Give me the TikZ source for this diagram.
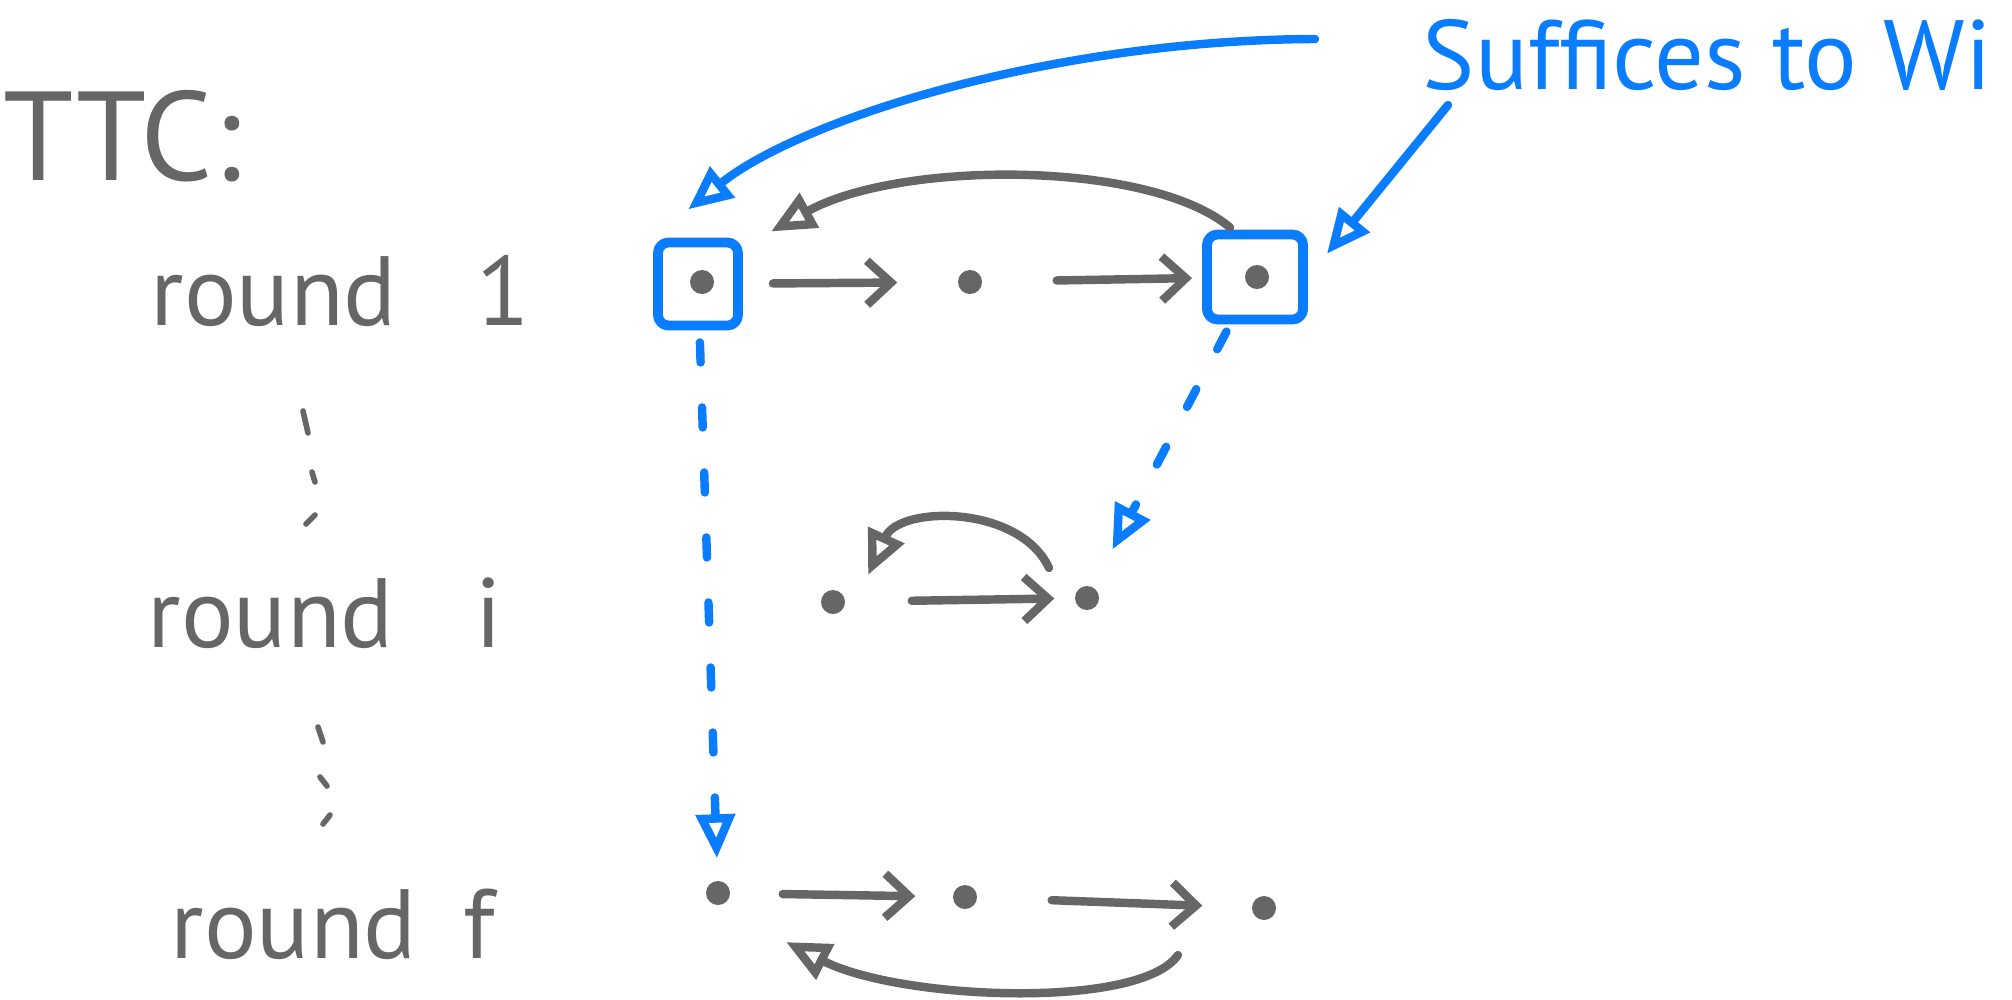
\documentclass[tikz,border=0pt]{standalone}
\usepackage{fontspec}
\setmainfont{PT Sans}
\usetikzlibrary{positioning, arrows.meta}
\definecolor{ink}{RGB}{102,102,102}
\definecolor{pen}{RGB}{10,125,255}

\begin{document}
\begin{tikzpicture}[
    x=0.01cm, y=-0.01cm,
    line cap=round, line join=round,
    dot/.style={circle, fill=ink, inner sep=0pt, minimum size=0.24cm},
    probe/.style={draw=pen, line width=2.8pt, rounded corners=3pt, inner sep=0pt, minimum width=0.8cm, minimum height=0.83cm},
    arr/.style={-{Straight Barb[length=0.24cm, width=0.44cm]}, ink, line width=2.4pt},
    back/.style={-{Triangle[open, length=0.44cm, width=0.38cm]}, ink, line width=2.4pt},
    barr/.style={-{Triangle[open, length=0.44cm, width=0.38cm]}, pen, line width=2.4pt},
    hint/.style={barr, dash pattern=on 0.2cm off 0.45cm},
    lbl/.style={ink, anchor=base west, inner sep=0pt, font=\fontsize{28}{30}\selectfont},
    note/.style={pen, anchor=base west, inner sep=0pt, font=\fontsize{28}{30}\selectfont}
]
    \path[use as bounding box, fill=white] (0,0) rectangle (2012,1000);

    \node[lbl, font=\fontsize{36}{40}\selectfont] (ttc) at (3,180) {TTC:};
    \node[lbl] (w1) at (150,325) {round};
    \node[lbl, right=0.78cm of w1.base east, anchor=base west] (n1) {1};
    \node[lbl] (w2) at (147,647) {round};
    \node[lbl, right=0.8cm of w2.base east, anchor=base west] (n2) {i};
    \node[lbl] (w3) at (170,958) {round};
    \node[lbl, right=0.45cm of w3.base east, anchor=base west] (n3) {f};

    \foreach \a/\b/\c/\d in {303/411/308/433, 312/472/315/482, 306/524/315/515,
                             318/727/323/742, 320/777/327/786, 323/824/330/815}
        \draw[ink, line width=1.6pt] (\a,\b) -- (\c,\d);

    \node[dot] (r1a) at (702,282) {};
    \node[probe] (box1) at (698,284) {};
    \node[dot] (r1b) at (970,282) {};
    \node[dot] (r1c) at (1257,277) {};
    \node[probe, minimum width=0.96cm, minimum height=0.85cm] (box2) at (1255,277) {};

    \node[dot] (r2a) at (833,602) {};
    \node[dot] (r2b) at (1087,598) {};

    \node[dot] (r3a) at (718,893) {};
    \node[dot] (r3b) at (965,897) {};
    \node[dot] (r3c) at (1264,908) {};

    \draw[arr, shorten <=0.3cm, shorten >=0.6cm] (box1) -- (r1b);
    \draw[arr, shorten <=0.74cm, shorten >=0.1cm] (r1b) -- (box2);
    \draw[arr, shorten <=0.66cm, shorten >=0.2cm] (r2a) -- (r2b);
    \draw[arr, shorten <=0.52cm, shorten >=0.37cm] (r3a) -- (r3b);
    \draw[arr, shorten <=0.74cm, shorten >=0.49cm] (r3b) -- (r3c);

    \draw[back] ([xshift=0.28cm, yshift=0.02cm]box2.north west) .. controls (1150,160) and (900,160) .. ([xshift=0.28cm, yshift=0.06cm]box1.north east);
    \draw[back] ([xshift=-0.38cm, yshift=0.3cm]r2b.center) .. controls (1020,505) and (900,505) .. ([xshift=0.35cm, yshift=0.27cm]r2a.center);
    \draw[back] ([xshift=-0.86cm, yshift=-0.47cm]r3c.center) .. controls (1140,1010) and (900,1000) .. ([xshift=0.68cm, yshift=-0.49cm]r3a.center);

    \node[note] (claim) at (1422,90) {Suffices to Wi};
    \coordinate (s1) at (1315,39);
    \coordinate (s2) at (1448,105);
    \draw[barr, shorten >=0.45cm] (s1) .. controls (1050,40) and (800,120) .. (box1.north west);
    \draw[barr, shorten >=0.3cm] (s2) -- (box2.east);

    \draw[hint, shorten <=0.12cm, shorten >=0.22cm] (box1) -- (r3a);
    \draw[hint, shorten <=0.08cm, shorten >=0.42cm] (box2) -- (r2b);

\end{tikzpicture}
\end{document}
